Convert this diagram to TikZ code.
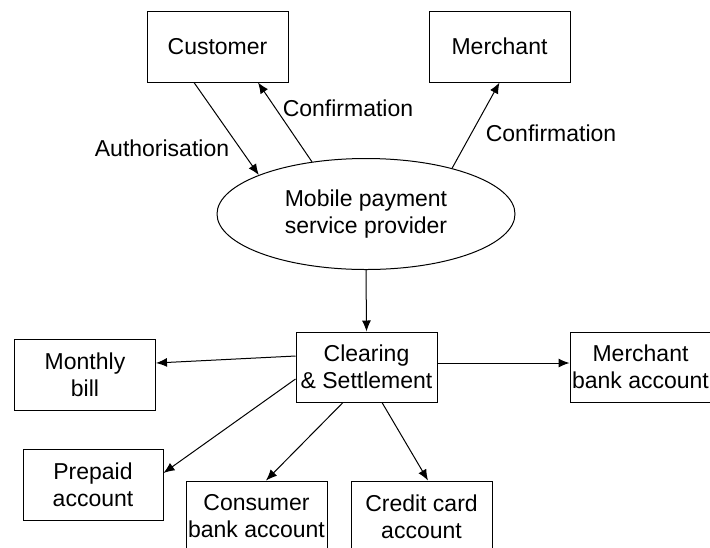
\documentclass[tikz,border=0pt]{standalone}
\usepackage{fontspec}
\setmainfont{Liberation Sans}
\usetikzlibrary{shapes.geometric,arrows.meta,calc}
\tikzset{
  box/.style={draw, line width=0.5pt, inner sep=0pt, align=center, minimum width=70.5pt, minimum height=35.5pt},
  oval/.style={draw, ellipse, line width=0.5pt, inner sep=0pt, align=center, minimum width=149pt, minimum height=55.5pt},
  conn/.style={line width=0.5pt, -{Latex[length=5.5pt,width=4.5pt]}},
  lbl/.style={inner sep=0pt}
}
\begin{document}
\begin{tikzpicture}[x=0.5pt,y=-0.5pt,font=\fontsize{11.5}{13.5}\selectfont]
\useasboundingbox (0,0) rectangle (710,547);
\node[box] (cust) at (217.5,46.5) {Customer};
\node[box] (merch) at (499.5,46.5) {Merchant};
\node[oval] (mps) at (366,214) {Mobile payment\\service provider};
\node[box, minimum height=35pt] (clear) at (366.5,367) {Clearing\\\& Settlement};
\node[box] (month) at (85,374.5) {Monthly\\bill};
\node[box, minimum width=70pt] (prep) at (93,484.5) {Prepaid\\account};
\node[box, minimum height=35pt] (mbank) at (640.5,367) {Merchant\\bank account};
\node[box] (cons) at (256.5,516.5) {Consumer\\bank account};
\node[box] (cred) at (421.5,516.5) {Credit card\\account};

\draw[conn] ($(cust.south)+(-23.5,0)$) -- (mps.160.8);
\draw[conn] (mps.136.1) -- ($(cust.south)+(40.5,0)$);
\draw[conn] (mps.28.1) -- (merch.south);
\draw[conn] (mps.south) -- (clear.north);
\draw[conn] ($(clear.west)+(0,-11)$) -- ($(month.east)+(0,-11.5)$);
\draw[conn] ($(clear.west)+(0,12)$) -- ($(prep.east)+(0,-11.5)$);
\draw[conn] ($(clear.south)+(-23.5,0)$) -- ($(cons.north)+(9.5,0)$);
\draw[conn] ($(clear.south)+(15.5,0)$) -- ($(cred.north)+(6.5,0)$);
\draw[conn] ($(clear.east)+(0,-4)$) -- ($(mbank.west)+(0,-4)$);

\node[lbl] (la) at (162,148) {Authorisation};
\node[lbl] (lc1) at (348,108) {Confirmation};
\node[lbl] (lc2) at (551,133) {Confirmation};
\end{tikzpicture}
\end{document}
